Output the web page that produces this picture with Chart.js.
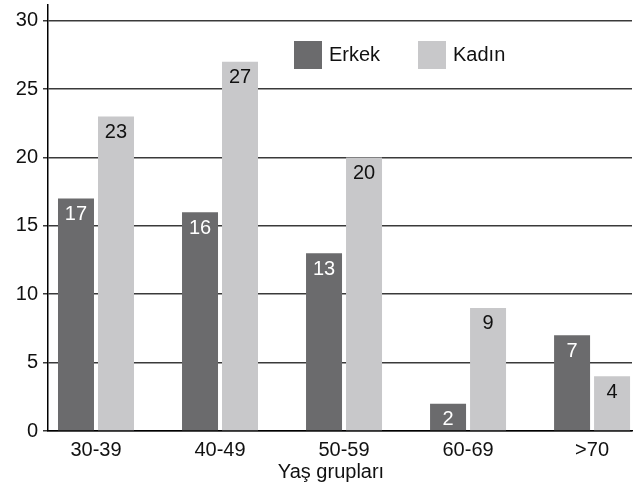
<!DOCTYPE html>
<html>
<head>
<meta charset="utf-8">
<script src="https://cdn.jsdelivr.net/npm/chart.js@4"></script>
<style>
  html, body { margin: 0; padding: 0; background: #fff; }
  #wrap { width: 638px; height: 484px; }
</style>
</head>
<body>
<div id="wrap"><canvas id="chart"></canvas></div>
<script>
const categories = ["30-39", "40-49", "50-59", "60-69", ">70"]
const erkek = [17, 16, 13, 2, 7]
const kadin = [23, 27, 20, 9, 4]
const yTicks = [0, 5, 10, 15, 20, 25, 30]

const FONT = "'Liberation Sans', Arial, Helvetica, sans-serif"
const DARK = "#6b6b6d"
const LIGHT = "#c8c8ca"

// value labels inside the top of each bar
const barLabels = {
  id: "barLabels",
  afterDatasetsDraw(chart) {
    const ctx = chart.ctx
    ctx.save()
    ctx.font = "20px " + FONT
    ctx.textAlign = "center"
    ctx.textBaseline = "middle"
    chart.data.datasets.forEach((ds, i) => {
      chart.getDatasetMeta(i).data.forEach((bar, j) => {
        ctx.fillStyle = i === 0 ? "#ffffff" : "#111111"
        ctx.fillText(String(ds.data[j].y), bar.x, bar.y + 16)
      })
    })
    ctx.restore()
  }
}

// legend and axis title drawn by hand to sit where the original has them
const extras = {
  id: "extras",
  afterDraw(chart) {
    const ctx = chart.ctx
    const items = [
      { label: "Erkek", color: DARK, x: 294 },
      { label: "Kadın", color: LIGHT, x: 418 }
    ]
    ctx.save()
    ctx.font = "20px " + FONT
    ctx.textBaseline = "middle"
    items.forEach(it => {
      ctx.fillStyle = it.color
      ctx.fillRect(it.x, 41, 28, 28)
      ctx.fillStyle = "#111"
      ctx.textAlign = "left"
      ctx.fillText(it.label, it.x + 35, 55)
    })
    ctx.textAlign = "center"
    ctx.fillText("Yaş grupları", 331, 472)
    ctx.restore()
  }
}

new Chart(document.getElementById("chart"), {
  type: "bar",
  data: {
    datasets: [
      {
        label: "Erkek",
        data: erkek.map((v, i) => ({ x: i, y: v })),
        backgroundColor: DARK,
        barPercentage: 0.9,
        categoryPercentage: 0.645
      },
      {
        label: "Kadın",
        data: kadin.map((v, i) => ({ x: i, y: v })),
        backgroundColor: LIGHT,
        barPercentage: 0.9,
        categoryPercentage: 0.645
      }
    ]
  },
  options: {
    responsive: true,
    maintainAspectRatio: false,
    animation: false,
    layout: { padding: { top: 5, right: 6, left: 0, bottom: 0 } },
    plugins: {
      legend: { display: false },
      tooltip: { enabled: false }
    },
    scales: {
      x: {
        type: "linear",
        offset: false,
        min: -0.387,
        max: 4.322,
        afterBuildTicks: s => { s.ticks = categories.map((c, i) => ({ value: i })) },
        afterFit: s => { s.height = 53; s.paddingLeft = 0; s.paddingRight = 0 },
        grid: { display: false, drawTicks: false },
        border: { color: "#000", width: 1.5 },
        ticks: {
          padding: 7,
          color: "#111",
          font: { family: FONT, size: 20 },
          callback: v => categories[v]
        }
      },
      y: {
        min: 0,
        max: 31.15,
        afterBuildTicks: s => { s.ticks = yTicks.map(v => ({ value: v })) },
        afterFit: s => { s.width = 48; s.paddingTop = 0; s.paddingBottom = 0 },
        grid: { color: "#3a3a3a", lineWidth: 1.5, tickLength: 5 },
        border: { color: "#000", width: 1.5 },
        ticks: {
          padding: 5,
          color: "#111",
          font: { family: FONT, size: 20 }
        }
      }
    }
  },
  plugins: [barLabels, extras]
})
</script>
</body>
</html>
